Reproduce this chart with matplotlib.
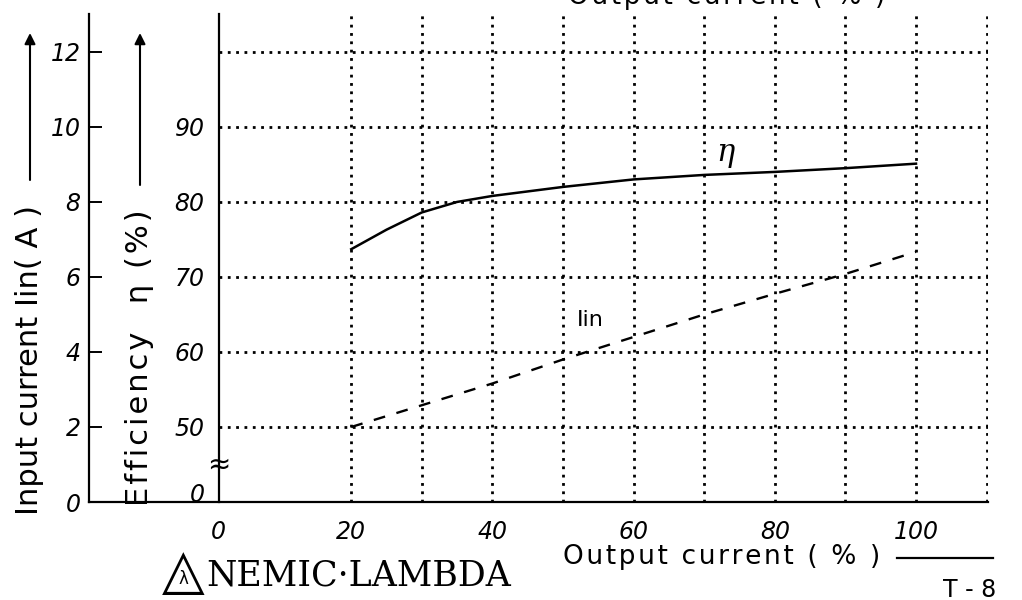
import matplotlib
matplotlib.use('Agg')
import matplotlib.pyplot as plt
from matplotlib.lines import Line2D

salida = [20, 25, 30, 35, 40, 50, 60, 70, 80, 90, 100]           # Output current (%)
eficiencia = [73.7, 76.3, 78.6, 80.0, 80.8, 82.0, 83.0, 83.6, 84.0, 84.5, 85.1]  # eta (%)

salida_iin = [20, 30, 40, 50, 60, 70, 80, 90, 100]
corriente_in = [2.0, 2.58, 3.16, 3.8, 4.4, 5.0, 5.55, 6.08, 6.67]   # Iin (A)

ticks_iin = [0, 2, 4, 6, 8, 10, 12]
ticks_ef = [50, 60, 70, 80, 90]
grid_ef = [50, 60, 70, 80, 90, 100]
grid_x = [20, 30, 40, 50, 60, 70, 80, 90, 100, 110]
ticks_x = [20, 40, 60, 80, 100]

CERO = 1.2          # posicion (rota) del eje de eficiencia
num_font = dict(family=['Liberation Sans Narrow', 'DejaVu Sans'], style='italic', fontsize=17)


def espaciado(s, sep='\u200a'):
    # separa las letras como en la hoja original
    return sep.join(s)


fig = plt.figure(figsize=(10.22, 6.0), dpi=100)
ax = fig.add_axes([89 / 1022, 1 - 502 / 600, (988 - 89) / 1022, (502 - 14) / 600])
ax.set_xlim(-17.15, 110.2)
ax.set_ylim(0, 13.01)

# eje de eficiencia: eta = 40 + 5 * Iin
ax2 = ax.twinx()
ax2.set_ylim(40, 40 + 5 * 13.01)
for s in ['top', 'right']:
    ax.spines[s].set_visible(False)
for s in ['top', 'right', 'bottom']:
    ax2.spines[s].set_visible(False)
ax2.spines['left'].set_position(('data', CERO))
ax2.yaxis.set_ticks_position('left')
for a in (ax, ax2):
    for s in a.spines.values():
        s.set_linewidth(1.6)

# cuadricula punteada
dotted = (0, (1, 2))
ax.vlines(grid_x, 0, 13.01, colors='black', linestyles=[dotted], lw=2)
ax2.hlines(grid_ef, CERO, 110.2, colors='black', linestyles=[dotted], lw=2)

# curvas
ax2.plot(salida, eficiencia, color='black', lw=1.8)
ax.plot(salida_iin, corriente_in, color='black', lw=1.7, linestyle=(0, (5, 5)))
ax2.text(73, 86.6, 'η', fontsize=22, style='italic', family='DejaVu Serif', ha='center', va='center')
ax.text(53.8, 4.85, 'Iin', fontsize=16, ha='center', va='center')

# ticks
ax.set_yticks(ticks_iin)
ax.set_yticklabels([str(t) for t in ticks_iin], **num_font)
ax.tick_params(axis='y', direction='in', length=9, width=1.4, pad=6)
ax.set_xticks([CERO] + ticks_x)
ax.set_xticklabels(['0'] + [str(t) for t in ticks_x], **num_font)
ax.tick_params(axis='x', length=0, pad=13)
ax2.set_yticks([41.2] + ticks_ef)
ax2.set_yticklabels(['0'] + [str(t) for t in ticks_ef], **num_font)
ax2.tick_params(axis='y', length=0, pad=10)
ax2.text(CERO, 45, '≈', fontsize=20, ha='center', va='center', rotation=0)

# etiquetas de ejes con flechas
fig.text(30 / 1022, 1 - 515 / 600, 'Input current Iin( A )', rotation=90,
         ha='center', va='bottom', fontsize=22)
fig.text(140 / 1022, 1 - 506 / 600, espaciado('Efficiency  η (%)'), rotation=90,
         ha='center', va='bottom', fontsize=22)
for xp, y0 in [(30, 180), (140, 185)]:
    fig.add_artist(plt.Annotation('', xy=(xp / 1022, 1 - 33 / 600), xytext=(xp / 1022, 1 - y0 / 600),
                                  xycoords='figure fraction',
                                  arrowprops=dict(arrowstyle='-|>', lw=1.5, color='black',
                                                  mutation_scale=16, shrinkA=0, shrinkB=0)))

# textos inferiores
eje_x = espaciado('Output current ( % )')
fig.text(563 / 1022, 1 - 557 / 600, eje_x, ha='left', va='center', fontsize=19)
fig.add_artist(Line2D([897 / 1022, 993 / 1022], [1 - 558 / 600, 1 - 558 / 600], color='black', lw=1.6))
fig.text(970 / 1022, 1 - 590 / 600, 'T - 8', ha='center', va='center', fontsize=17)
fig.text(727 / 1022, 1 - 4 / 600, eje_x, ha='center', va='baseline', fontsize=19)

# logotipo
fig.text(183 / 1022, 1 - 573 / 600, '△', ha='center', va='center', fontsize=40)
fig.text(183 / 1022, 1 - 579 / 600, 'λ', ha='center', va='center', fontsize=12)
fig.text(206 / 1022, 1 - 575 / 600, 'NEMIC·LAMBDA', ha='left', va='center',
         family='DejaVu Serif', fontsize=25)

fig.savefig('out.png', dpi=100)
